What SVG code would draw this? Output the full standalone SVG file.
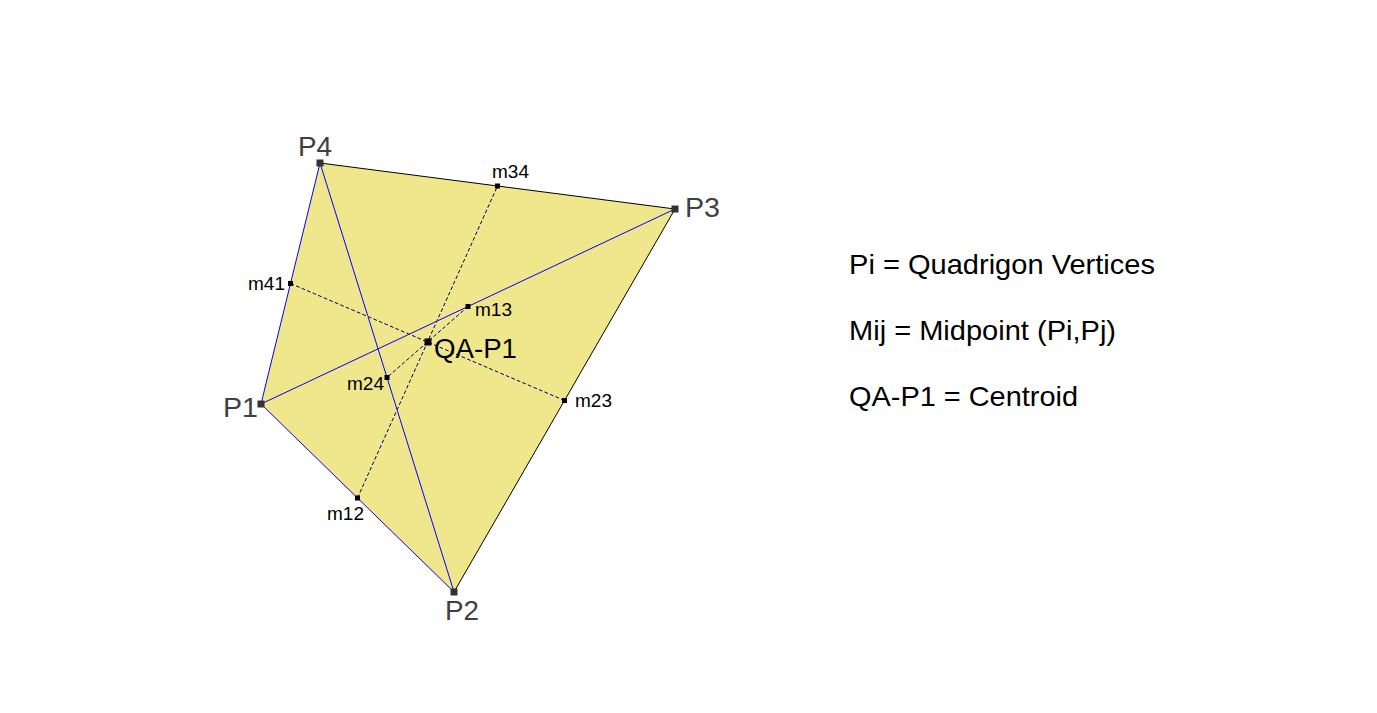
<svg xmlns="http://www.w3.org/2000/svg" width="1377" height="713" viewBox="0 0 1377 713">
<style>
.lbl{font-family:"Liberation Sans",Arial,sans-serif;}
.pv{font-size:27px;fill:#404040;}
.mid{font-size:18px;fill:#000;}
.leg{font-size:28px;fill:#000;}
.blue{stroke:#0000ff;stroke-width:1;fill:none;}
.blk{stroke:#000;stroke-width:1;fill:none;}
.under{stroke:#fff;stroke-width:1;fill:none;}
.dash{stroke:#000;stroke-width:1;stroke-dasharray:4,2;fill:none;}
</style>
<rect width="1377" height="713" fill="#fff"/>
<polygon points="261,404 454,592 675,209 320,163" fill="#F0E68C" stroke="none"/>
<g id="connectors">
<line class="blue" x1="261" y1="404" x2="454" y2="592"/>
<line class="blue" x1="320" y1="163" x2="261" y2="404"/>
<line class="blue" x1="320" y1="163" x2="454" y2="592"/>
<line class="blue" x1="261" y1="404" x2="675" y2="209"/>
<line class="blk" x1="454" y1="592" x2="675" y2="209"/>
<line class="blk" x1="675" y1="209" x2="320" y2="163"/>
<line class="under" x1="290.5" y1="283.5" x2="564.5" y2="400.5"/>
<line class="dash" x1="290.5" y1="283.5" x2="564.5" y2="400.5"/>
<line class="under" x1="357.5" y1="498" x2="497.5" y2="186"/>
<line class="dash" x1="357.5" y1="498" x2="497.5" y2="186"/>
<line class="under" x1="468" y1="306.5" x2="387" y2="377.5"/>
<line class="dash" x1="468" y1="306.5" x2="387" y2="377.5"/>
</g>
<g id="P1"><rect x="257.5" y="400.5" width="7" height="7" fill="#333"/><text class="lbl pv" x="223" y="417" textLength="35" lengthAdjust="spacingAndGlyphs">P1</text></g>
<g id="P2"><rect x="450.5" y="588.5" width="7" height="7" fill="#333"/><text class="lbl pv" x="445" y="620" textLength="34" lengthAdjust="spacingAndGlyphs">P2</text></g>
<g id="P3"><rect x="671.5" y="205.5" width="7" height="7" fill="#333"/><text class="lbl pv" x="685" y="217" textLength="35" lengthAdjust="spacingAndGlyphs">P3</text></g>
<g id="P4"><rect x="316.5" y="159.5" width="7" height="7" fill="#333"/><text class="lbl pv" x="298" y="156" textLength="34" lengthAdjust="spacingAndGlyphs">P4</text></g>
<g id="m12"><rect x="355" y="495.5" width="5" height="5" fill="#000"/><text class="lbl mid" x="327" y="520" textLength="37" lengthAdjust="spacingAndGlyphs">m12</text></g>
<g id="m34"><rect x="495" y="183.5" width="5" height="5" fill="#000"/><text class="lbl mid" x="492" y="178" textLength="37" lengthAdjust="spacingAndGlyphs">m34</text></g>
<g id="m41"><rect x="288" y="281" width="5" height="5" fill="#000"/><text class="lbl mid" x="248" y="290" textLength="37" lengthAdjust="spacingAndGlyphs">m41</text></g>
<g id="m23"><rect x="562" y="398" width="5" height="5" fill="#000"/><text class="lbl mid" x="575" y="407" textLength="37" lengthAdjust="spacingAndGlyphs">m23</text></g>
<g id="m13"><rect x="465.5" y="304" width="5" height="5" fill="#000"/><text class="lbl mid" x="475" y="316" textLength="37" lengthAdjust="spacingAndGlyphs">m13</text></g>
<g id="m24"><rect x="384.5" y="375" width="5" height="5" fill="#000"/><text class="lbl mid" x="347" y="390" textLength="37" lengthAdjust="spacingAndGlyphs">m24</text></g>
<g id="QA-P1"><rect x="424.5" y="338.5" width="7" height="7" fill="#000"/><text class="lbl pv" style="fill:#000" x="434" y="358" textLength="83" lengthAdjust="spacingAndGlyphs">QA-P1</text></g>
<g id="legend">
<text class="lbl leg" x="849" y="274" textLength="306" lengthAdjust="spacingAndGlyphs">Pi = Quadrigon Vertices</text>
<text class="lbl leg" x="849" y="340" textLength="267" lengthAdjust="spacingAndGlyphs">Mij = Midpoint (Pi,Pj)</text>
<text class="lbl leg" x="849" y="406" textLength="229" lengthAdjust="spacingAndGlyphs">QA-P1 = Centroid</text>
</g>
</svg>
